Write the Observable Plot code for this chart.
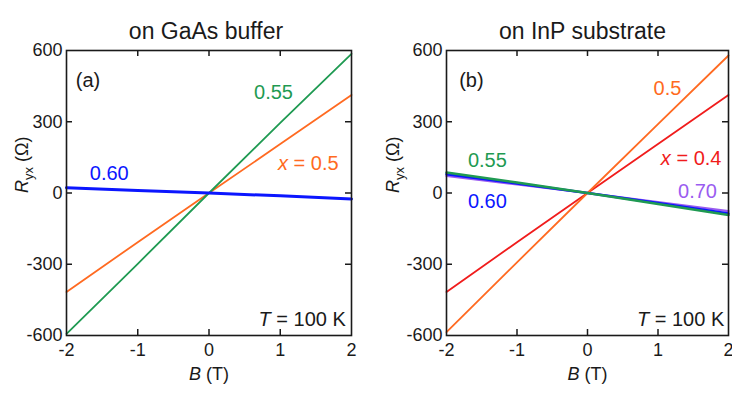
<!DOCTYPE html>
<html><head><meta charset="utf-8">
<script src="https://cdn.jsdelivr.net/npm/d3@7"></script>
<script src="https://cdn.jsdelivr.net/npm/@observablehq/plot@0.6"></script>
<style>
body{margin:0;background:#fff;font-family:"Liberation Sans",Arial,sans-serif;}
#wrap{position:relative;width:732px;height:394px;overflow:hidden;background:#fff;}
.panel{position:absolute;top:0;}
</style></head><body><div id="wrap"></div>
<script>
// Magnetic field B (T)
const B = [-2, -1, 0, 1, 2];
// Panel (a): on GaAs buffer, R_yx (Ohm)
const a_x050 = [-417, -207, 0, 206, 413];
const a_x055 = [-593, -298, 0, 295, 586];
const a_x060 = [22, 11, 0, -12, -25];
// Panel (b): on InP substrate, R_yx (Ohm)
const b_x040 = [-417, -207, 0, 206, 413];
const b_x050 = [-586, -292, 0, 290, 579];
const b_x055 = [86, 44, 0, -46, -93];
const b_x060 = [79, 40, 0, -42, -86];
const b_x070 = [72, 36, 0, -38, -76];
// ticks
const xTicks = [-2, -1, 0, 1, 2];
const yTicks = [-600, -300, 0, 300, 600];
const xInner = [-1, 0, 1];
const yInner = [-300, 0, 300];
const titles = ["on GaAs buffer", "on InP substrate"];

const C = {green: "#1f9a52", orange: "#ff6a21", blue: "#0b16ff", red: "#f01c1c", purple: "#9a5cf0", ink: "#1a1a1a"};

const toRows = (vals) => B.map((b, i) => ({B: b, R: vals[i]}));

const W = 366, H = 394, MT = 50, MB = 59;
const FH = H - MT - MB;
const TICK = 6;

function panel({left, ml, mr, title, titleDx, ylabDx, series, labels}) {
  const marks = [];
  for (const s of series) {
    marks.push(Plot.line(toRows(s.vals), {x: "B", y: "R", stroke: s.color, strokeWidth: s.w}));
  }
  // inward ticks
  marks.push(Plot.tickX(xInner, {x: d => d, insetTop: FH - TICK, stroke: C.ink, strokeWidth: 1.5}));
  marks.push(Plot.tickX(xInner, {x: d => d, insetBottom: FH - TICK, stroke: C.ink, strokeWidth: 1.5}));
  const FW = W - ml - mr;
  marks.push(Plot.tickY(yInner, {y: d => d, insetRight: FW - TICK, stroke: C.ink, strokeWidth: 1.5}));
  marks.push(Plot.tickY(yInner, {y: d => d, insetLeft: FW - TICK, stroke: C.ink, strokeWidth: 1.5}));
  marks.push(Plot.frame({stroke: C.ink, strokeWidth: 1.6}));
  marks.push(Plot.axisX(xTicks, {tickSize: 0, tickPadding: 8, label: null, tickFormat: d => String(d), fill: C.ink, fontSize: 18}));
  marks.push(Plot.axisY(yTicks, {tickSize: 0, tickPadding: 4, label: null, tickFormat: d => String(d), fill: C.ink, fontSize: 18}));
  // annotations
  for (const a of ["start", "middle", "end"]) {
    const ls = labels.filter(l => l.anchor === a);
    if (ls.length) marks.push(Plot.text(ls, {x: "B", y: "R", text: "t", fill: "c", textAnchor: a, fontSize: 20}));
  }
  marks.push(Plot.text([title], {frameAnchor: "top", dy: -28, dx: titleDx, fontSize: 23, fill: C.ink}));
  marks.push(Plot.text(["B (T)"], {frameAnchor: "bottom", dy: 44, fontSize: 18, fill: C.ink}));
  marks.push(Plot.text(["Ryx (Ω)"], {frameAnchor: "left", dx: ylabDx, rotate: -90, fontSize: 18, fill: C.ink}));

  const svg = Plot.plot({
    width: W, height: H, marginTop: MT, marginBottom: MB, marginLeft: ml, marginRight: mr,
    x: {domain: [-2, 2], axis: null},
    y: {domain: [-600, 600], axis: null},
    color: {type: "identity"},
    style: {fontFamily: "'Liberation Sans', Arial, sans-serif", fontSize: "18px", background: "white", overflow: "visible"},
    marks
  });
  const rich = {
    "B (T)": '<tspan font-style="italic">B</tspan> (T)',
    "Ryx (Ω)": '<tspan font-style="italic">R</tspan><tspan font-size="13" dy="5">yx</tspan><tspan dy="-5"> (Ω)</tspan>',
    "x = 0.5": '<tspan font-style="italic">x</tspan> = 0.5',
    "x = 0.4": '<tspan font-style="italic">x</tspan> = 0.4',
    "T = 100 K": '<tspan font-style="italic">T</tspan> = 100 K'
  };
  d3.select(svg).selectAll("text").each(function() {
    const t = this.textContent;
    if (rich[t] && this.children.length === 0) this.innerHTML = rich[t];
  });
  const div = document.createElement("div");
  div.className = "panel";
  div.style.left = left + "px";
  div.appendChild(svg);
  document.getElementById("wrap").appendChild(div);
}

panel({
  left: 0, ml: 66, mr: 15, title: titles[0], titleDx: -3, ylabDx: -44,
  series: [
    {vals: a_x050, color: C.orange, w: 1.8},
    {vals: a_x055, color: C.green, w: 1.8},
    {vals: a_x060, color: C.blue, w: 3}
  ],
  labels: [
    {B: -1.87, R: 474, t: "(a)", c: C.ink, anchor: "start"},
    {B: 0.905, R: 423, t: "0.55", c: C.green, anchor: "middle"},
    {B: 1.82, R: 124, t: "x = 0.5", c: C.orange, anchor: "end"},
    {B: -1.40, R: 82, t: "0.60", c: C.blue, anchor: "middle"},
    {B: 1.92, R: -533, t: "T = 100 K", c: C.ink, anchor: "end"}
  ]
});

panel({
  left: 366, ml: 80, mr: 4, title: titles[1], titleDx: -5, ylabDx: -53,
  series: [
    {vals: b_x040, color: C.red, w: 1.8},
    {vals: b_x050, color: C.orange, w: 1.8},
    {vals: b_x070, color: C.purple, w: 2.2},
    {vals: b_x060, color: C.blue, w: 2.5},
    {vals: b_x055, color: C.green, w: 2.5}
  ],
  labels: [
    {B: -1.82, R: 474, t: "(b)", c: C.ink, anchor: "start"},
    {B: 1.135, R: 440, t: "0.5", c: C.orange, anchor: "middle"},
    {B: 1.90, R: 145, t: "x = 0.4", c: C.red, anchor: "end"},
    {B: -1.42, R: 137, t: "0.55", c: C.green, anchor: "middle"},
    {B: -1.42, R: -35, t: "0.60", c: C.blue, anchor: "middle"},
    {B: 1.56, R: 6, t: "0.70", c: C.purple, anchor: "middle"},
    {B: 1.94, R: -533, t: "T = 100 K", c: C.ink, anchor: "end"}
  ]
});
</script></body></html>
